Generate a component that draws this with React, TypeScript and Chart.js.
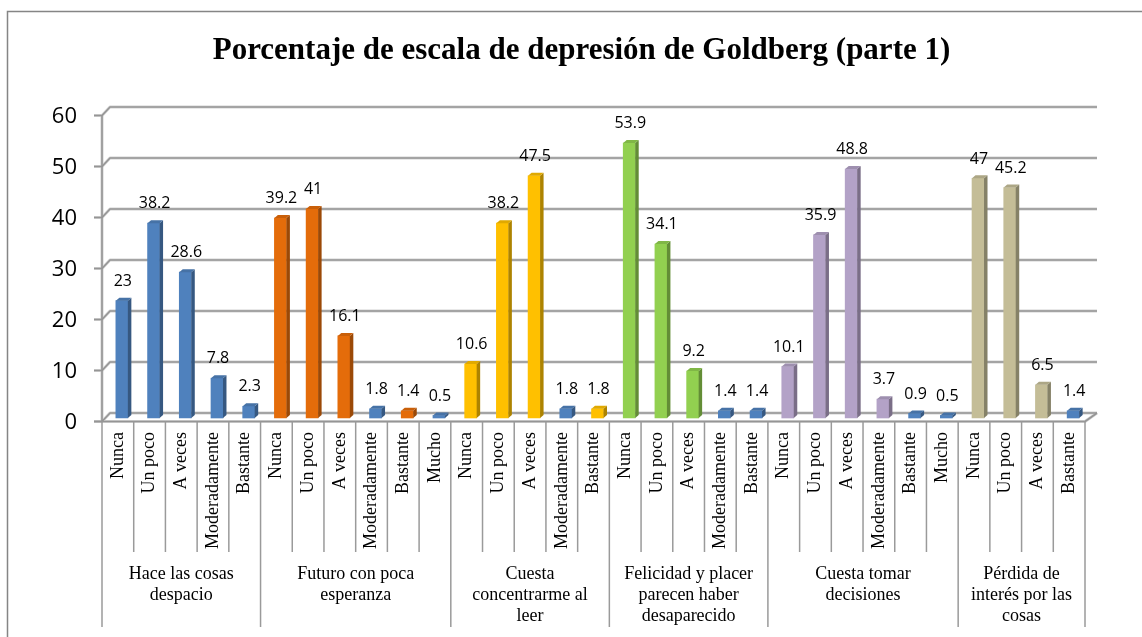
import { useEffect, useRef } from "react";
import { Chart, registerables } from "chart.js";

Chart.register(...registerables);

// ---------- data ----------
const TITLE = "Porcentaje de escala de depresión de Goldberg (parte 1)";

const CATEGORY_LABELS = [
  "Nunca", "Un poco", "A veces", "Moderadamente", "Bastante",
  "Nunca", "Un poco", "A veces", "Moderadamente", "Bastante", "Mucho",
  "Nunca", "Un poco", "A veces", "Moderadamente", "Bastante",
  "Nunca", "Un poco", "A veces", "Moderadamente", "Bastante",
  "Nunca", "Un poco", "A veces", "Moderadamente", "Bastante", "Mucho",
  "Nunca", "Un poco", "A veces", "Bastante",
];

const VALUES = [
  23, 38.2, 28.6, 7.8, 2.3,
  39.2, 41, 16.1, 1.8, 1.4, 0.5,
  10.6, 38.2, 47.5, 1.8, 1.8,
  53.9, 34.1, 9.2, 1.4, 1.4,
  10.1, 35.9, 48.8, 3.7, 0.9, 0.5,
  47, 45.2, 6.5, 1.4,
];

const GROUP_LABELS = [
  ["Hace las cosas", "despacio"],
  ["Futuro con poca", "esperanza"],
  ["Cuesta", "concentrarme al", "leer"],
  ["Felicidad y placer", "parecen haber", "desaparecido"],
  ["Cuesta tomar", "decisiones"],
  ["Pérdida de", "interés por las", "cosas"],
];

const GROUP_SIZES = [5, 6, 5, 5, 6, 4];

// ---------- styles ----------
const B = "#4F81BD";
const O = "#E46C0A";
const Y = "#FFC000";
const G = "#92D050";
const P = "#B3A2C7";
const T = "#C4BD97";
const BAR_COLORS = [
  B, B, B, B, B,
  O, O, O, B, O, B,
  Y, Y, Y, B, Y,
  G, G, G, B, B,
  P, P, P, P, B, B,
  T, T, T, B,
];

const SERIF = '"Liberation Serif", "Times New Roman", serif';
const SANS = '"Open Sans", "Liberation Sans", sans-serif';
const BAR_SHIFT = 4;
const DEPTH_X = 3.5;
const DEPTH_Y = 3;

function shade(hex: string, f: number): string {
  const n = parseInt(hex.slice(1), 16);
  const r = Math.round(((n >> 16) & 255) * f);
  const g = Math.round(((n >> 8) & 255) * f);
  const b = Math.round((n & 255) * f);
  return `rgb(${r},${g},${b})`;
}

const excel3d = {
  id: "excel3d",
  beforeDraw(chart: any) {
    const ctx = chart.ctx;
    ctx.save();
    // outer border
    ctx.strokeStyle = "#858585";
    ctx.lineWidth = 1.5;
    ctx.strokeRect(7.5, 11.5, 1200, 700);
    // title
    ctx.fillStyle = "#000";
    ctx.font = `bold 31px ${SERIF}`;
    ctx.textAlign = "center";
    ctx.textBaseline = "alphabetic";
    ctx.fillText(TITLE, 581.5, 58.5);
    ctx.restore();
  },
  beforeDatasetsDraw(chart: any) {
    const ctx = chart.ctx;
    const ys = chart.scales.y;
    const area = chart.chartArea;
    const L = area.left;
    const R = area.right;
    const backL = L + 8;
    const backR = R + 12;
    ctx.save();
    const front = (v: number) => ys.getPixelForValue(v) + 3.5;
    const back = (v: number) => ys.getPixelForValue(v) - 5;
    const drawLine = (pts: number[][]) => {
      ctx.beginPath();
      ctx.moveTo(pts[0][0], pts[0][1]);
      for (let i = 1; i < pts.length; i++) ctx.lineTo(pts[i][0], pts[i][1]);
      ctx.stroke();
    };
    const passes = [
      { w: 3, c: "#d2d2d2" },
      { w: 1.6, c: "#959595" },
    ];
    for (const p of passes) {
      ctx.lineWidth = p.w;
      ctx.strokeStyle = p.c;
      ctx.lineJoin = "round";
      for (const t of ys.ticks) {
        const v = t.value;
        drawLine([
          [L - 8, front(v)],
          [L, front(v)],
          [backL, back(v)],
          [backR, back(v)],
        ]);
      }
      // front vertical axis
      drawLine([
        [L, front(ys.max)],
        [L, front(0)],
      ]);
      // floor front edge and right edge
      drawLine([
        [L - 8, front(0)],
        [R, front(0)],
        [backR, back(0)],
      ]);
    }
    ctx.restore();
    ctx.save();
    ctx.translate(BAR_SHIFT, 0);
  },
  afterDatasetsDraw(chart: any) {
    const ctx = chart.ctx;
    const meta = chart.getDatasetMeta(0);
    meta.data.forEach((el: any, i: number) => {
      const { x, y, base, width } = el.getProps(["x", "y", "base", "width"], true);
      const c = BAR_COLORS[i];
      const l = x - width / 2;
      const r = x + width / 2;
      // side face
      ctx.fillStyle = shade(c, 0.68);
      ctx.beginPath();
      ctx.moveTo(r, y);
      ctx.lineTo(r + DEPTH_X, y - DEPTH_Y);
      ctx.lineTo(r + DEPTH_X, base - DEPTH_Y);
      ctx.lineTo(r, base);
      ctx.closePath();
      ctx.fill();
      // top face
      ctx.fillStyle = shade(c, 0.88);
      ctx.beginPath();
      ctx.moveTo(l, y);
      ctx.lineTo(l + DEPTH_X, y - DEPTH_Y);
      ctx.lineTo(r + DEPTH_X, y - DEPTH_Y);
      ctx.lineTo(r, y);
      ctx.closePath();
      ctx.fill();
      // value label
      ctx.fillStyle = "#000";
      ctx.font = `16px ${SANS}`;
      ctx.textAlign = "center";
      ctx.textBaseline = "alphabetic";
      ctx.fillText(String(VALUES[i]), x + 1, y - 14.8);
    });
    ctx.restore();
  },
  afterDraw(chart: any) {
    const ctx = chart.ctx;
    const xs = chart.scales.x;
    const ys = chart.scales.y;
    const area = chart.chartArea;
    const n = CATEGORY_LABELS.length;
    const cw = (area.right - area.left) / n;
    const top = ys.getPixelForValue(0) + 3.5;
    ctx.save();
    ctx.strokeStyle = "#9a9a9a";
    ctx.lineWidth = 1.5;
    const groupEdges = new Set<number>();
    let acc = 0;
    groupEdges.add(0);
    for (const s of GROUP_SIZES) {
      acc += s;
      groupEdges.add(acc);
    }
    for (let i = 0; i <= n; i++) {
      const bx = xs.getPixelForValue(Math.min(i, n - 1)) + (i === n ? cw / 2 : -cw / 2);
      ctx.beginPath();
      ctx.moveTo(bx, top);
      ctx.lineTo(bx, groupEdges.has(i) ? 627 : 552);
      ctx.stroke();
    }
    // group labels
    ctx.fillStyle = "#000";
    ctx.font = `18px ${SERIF}`;
    ctx.textAlign = "center";
    ctx.textBaseline = "middle";
    let start = 0;
    GROUP_SIZES.forEach((s, g) => {
      const x0 = xs.getPixelForValue(start) - cw / 2;
      const x1 = xs.getPixelForValue(start + s - 1) + cw / 2;
      const cx = (x0 + x1) / 2;
      GROUP_LABELS[g].forEach((line, k) => {
        ctx.fillText(line, cx, 574 + k * 21);
      });
      start += s;
    });
    ctx.restore();
  },
};

export default function App() {
  const ref = useRef<HTMLCanvasElement | null>(null);
  useEffect(() => {
    if (!ref.current) return;
    const chart = new Chart(ref.current, {
      type: "bar",
      data: {
        labels: CATEGORY_LABELS,
        datasets: [
          {
            data: VALUES,
            backgroundColor: BAR_COLORS,
            borderWidth: 0,
            barThickness: 12,
            clip: false as any,
          },
        ],
      },
      options: {
        animation: false,
        responsive: false,
        layout: { padding: { top: 112, right: 57, left: 0, bottom: 0 } },
        plugins: {
          legend: { display: false },
          tooltip: { enabled: false },
          title: { display: false },
        },
        scales: {
          x: {
            grid: { display: false, drawTicks: false },
            border: { display: false },
            ticks: {
              autoSkip: false,
              maxRotation: 90,
              minRotation: 90,
              padding: 14,
              color: "#000",
              font: { family: SERIF, size: 18 },
            },
            afterFit: (s: any) => {
              s.height = 219;
            },
          },
          y: {
            min: 0,
            max: 60,
            grid: { display: false, drawTicks: false },
            border: { display: false },
            ticks: {
              stepSize: 10,
              padding: 25,
              labelOffset: 4.5,
              color: "#000",
              font: { family: SANS, size: 22 },
            },
            afterFit: (s: any) => {
              s.width = 102;
            },
          },
        },
      },
      plugins: [excel3d],
    });
    return () => chart.destroy();
  }, []);
  return (
    <div style={{ position: "absolute", left: 0, top: 0, width: 1142, height: 637, background: "#fff" }}>
      <canvas ref={ref} width={1142} height={637} style={{ display: "block" }} />
    </div>
  );
}
